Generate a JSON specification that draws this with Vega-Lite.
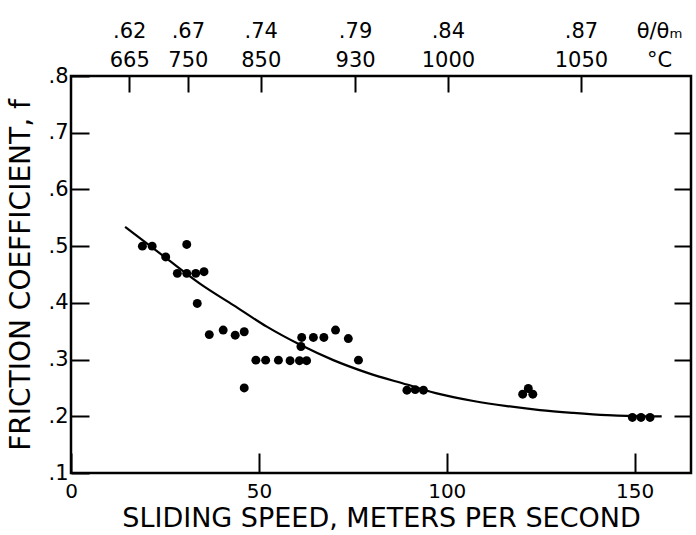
{
  "$schema": "https://vega.github.io/schema/vega-lite/v6.json",
  "width": 620,
  "height": 397,
  "autosize": {"type": "none"},
  "padding": {"left": 71, "top": 76, "right": 5, "bottom": 62},
  "background": "white",
  "config": {
    "view": {"stroke": "black", "strokeWidth": 2.5},
    "font": "DejaVu Sans",
    "axis": {
      "domain": false,
      "grid": false,
      "tickColor": "black",
      "tickWidth": 2,
      "labelColor": "black",
      "titleColor": "black",
      "labelFont": "DejaVu Sans",
      "titleFont": "DejaVu Sans",
      "titleFontWeight": "normal",
      "labelFlush": false,
      "labelOverlap": false
    }
  },
  "datasets": {
    "curve": [
      {"speed": 14.4, "f": 0.534},
      {"speed": 25.5, "f": 0.478},
      {"speed": 34.3, "f": 0.434},
      {"speed": 43.2, "f": 0.396},
      {"speed": 52.1, "f": 0.358},
      {"speed": 61.0, "f": 0.326},
      {"speed": 69.8, "f": 0.299},
      {"speed": 78.7, "f": 0.277},
      {"speed": 89.4, "f": 0.256},
      {"speed": 98.2, "f": 0.239},
      {"speed": 107.1, "f": 0.227},
      {"speed": 116.0, "f": 0.218},
      {"speed": 124.8, "f": 0.211},
      {"speed": 133.7, "f": 0.206},
      {"speed": 142.6, "f": 0.202},
      {"speed": 151.4, "f": 0.200},
      {"speed": 157.2, "f": 0.200}
    ],
    "points": [
      {"speed": 19.0, "f": 0.500},
      {"speed": 21.6, "f": 0.500},
      {"speed": 25.2, "f": 0.481},
      {"speed": 30.8, "f": 0.503},
      {"speed": 28.3, "f": 0.452},
      {"speed": 30.8, "f": 0.452},
      {"speed": 33.2, "f": 0.452},
      {"speed": 35.4, "f": 0.455},
      {"speed": 33.6, "f": 0.399},
      {"speed": 36.8, "f": 0.344},
      {"speed": 40.5, "f": 0.352},
      {"speed": 43.7, "f": 0.343},
      {"speed": 46.1, "f": 0.349},
      {"speed": 46.1, "f": 0.250},
      {"speed": 49.2, "f": 0.299},
      {"speed": 51.8, "f": 0.299},
      {"speed": 55.2, "f": 0.299},
      {"speed": 58.3, "f": 0.298},
      {"speed": 60.8, "f": 0.298},
      {"speed": 62.7, "f": 0.298},
      {"speed": 61.2, "f": 0.323},
      {"speed": 61.4, "f": 0.339},
      {"speed": 64.5, "f": 0.339},
      {"speed": 67.3, "f": 0.339},
      {"speed": 70.4, "f": 0.352},
      {"speed": 73.8, "f": 0.337},
      {"speed": 76.5, "f": 0.299},
      {"speed": 89.4, "f": 0.246},
      {"speed": 91.6, "f": 0.247},
      {"speed": 93.8, "f": 0.246},
      {"speed": 121.7, "f": 0.249},
      {"speed": 120.2, "f": 0.239},
      {"speed": 122.9, "f": 0.239},
      {"speed": 149.4, "f": 0.198},
      {"speed": 151.7, "f": 0.198},
      {"speed": 154.1, "f": 0.198}
    ]
  },
  "layer": [
    {
      "data": {"name": "curve"},
      "mark": {"type": "line", "interpolate": "monotone", "color": "black", "strokeWidth": 2.2},
      "encoding": {
        "x": {
          "field": "speed",
          "type": "quantitative",
          "scale": {"domain": [0, 165], "nice": false, "zero": false},
          "axis": {
            "orient": "top",
            "title": null,
            "values": [15.5, 31.1, 50.5, 75.6, 100.3, 135.7, 156.5],
            "labelExpr": "datum.value < 20 ? ['.62', '665'] : datum.value < 40 ? ['.67', '750'] : datum.value < 60 ? ['.74', '850'] : datum.value < 90 ? ['.79', '930'] : datum.value < 120 ? ['.84', '1000'] : datum.value < 150 ? ['.87', '1050'] : ['θ/θₘ', '°C']",
            "tickSize": -16,
            "tickColor": {"condition": {"test": "datum.value > 150", "value": "transparent"}, "value": "black"},
            "labelPadding": 51,
            "labelFontSize": 21,
            "labelLineHeight": 29
          }
        },
        "y": {
          "field": "f",
          "type": "quantitative",
          "scale": {"domain": [0.1, 0.8], "nice": false, "zero": false},
          "axis": {
            "orient": "right",
            "title": null,
            "values": [0.2, 0.3, 0.4, 0.5, 0.6, 0.7],
            "labels": false,
            "tickSize": -17
          }
        }
      }
    },
    {
      "data": {"name": "points"},
      "mark": {"type": "circle", "color": "black", "opacity": 1, "size": 80},
      "encoding": {
        "x": {
          "field": "speed",
          "type": "quantitative",
          "scale": {"domain": [0, 165], "nice": false, "zero": false},
          "axis": {
            "orient": "bottom",
            "title": "SLIDING SPEED, METERS PER SECOND",
            "values": [0, 50, 100, 150],
            "tickSize": -20,
            "labelPadding": 28,
            "labelFontSize": 20,
            "titleFontSize": 27,
            "titlePadding": 4
          }
        },
        "y": {
          "field": "f",
          "type": "quantitative",
          "scale": {"domain": [0.1, 0.8], "nice": false, "zero": false},
          "axis": {
            "orient": "left",
            "title": "FRICTION COEFFICIENT, f",
            "values": [0.1, 0.2, 0.3, 0.4, 0.5, 0.6, 0.7, 0.8],
            "labelExpr": "replace(format(datum.value, '.1f'), '0.', '.')",
            "tickSize": -18,
            "labelPadding": 21,
            "labelFontSize": 21,
            "titleFontSize": 28,
            "titlePadding": 12
          }
        }
      }
    }
  ],
  "resolve": {"axis": {"x": "independent", "y": "independent"}}
}
